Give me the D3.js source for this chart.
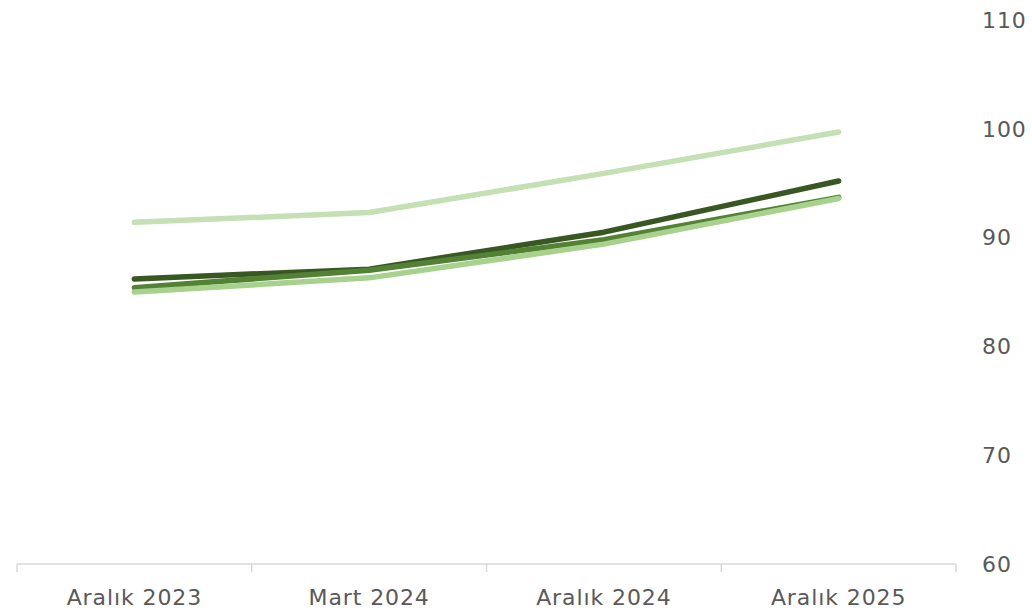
<!DOCTYPE html>
<html lang="tr">
<head>
    <meta charset="UTF-8">
    <title>Chart</title>
    <script src="https://d3js.org/d3.v7.min.js"></script>
    <style>
        body { margin: 0; background: #fff; }
        text { font-family: Verdana, "DejaVu Sans", sans-serif; fill: #595959; }
    </style>
</head>
<body>
    <div id="chart"></div>
    <script>
        const categories = ["Aralık 2023", "Mart 2024", "Aralık 2024", "Aralık 2025"];
        const yTicks = [60, 70, 80, 90, 100, 110];

        const seriesLight = [91.4, 92.3, 95.9, 99.7];
        const seriesDark = [86.2, 87.1, 90.5, 95.2];
        const seriesMedium = [85.4, 87.0, 89.8, 93.7];
        const seriesPale = [85.0, 86.3, 89.4, 93.6];

        const series = [
            { values: seriesLight, color: "#c5e0b4" },
            { values: seriesDark, color: "#385723" },
            { values: seriesMedium, color: "#548235" },
            { values: seriesPale, color: "#a9d18e" }
        ];

        const svg = d3.select("#chart")
            .append("svg")
            .attr("width", 1032)
            .attr("height", 613);

        const x = d3.scaleBand()
            .domain(categories)
            .range([17, 956]);

        const y = d3.scaleLinear()
            .domain([60, 110])
            .range([564, 20]);

        // category labels under the axis
        const xAxis = svg.append("g")
            .attr("transform", "translate(0, 564)")
            .call(d3.axisBottom(x).tickSize(0).tickPadding(25));
        xAxis.select(".domain").remove();
        xAxis.selectAll("text")
            .attr("font-size", "22px")
            .attr("letter-spacing", "0.9px")
            .style("font-family", "Verdana, 'DejaVu Sans', sans-serif")
            .attr("fill", "#595959");

        svg.append("line")
            .attr("x1", 17).attr("x2", 956)
            .attr("y1", 564).attr("y2", 564)
            .attr("stroke", "#d9d9d9")
            .attr("stroke-width", 1.5);

        const bounds = categories.map(c => x(c)).concat([x.range()[1]]);
        svg.selectAll(".xtick")
            .data(bounds)
            .enter()
            .append("line")
            .attr("x1", d => d).attr("x2", d => d)
            .attr("y1", 564).attr("y2", 572)
            .attr("stroke", "#d9d9d9")
            .attr("stroke-width", 1.5);

        // y labels on the right
        svg.selectAll(".ylabel")
            .data(yTicks)
            .enter()
            .append("text")
            .attr("x", 982)
            .attr("y", d => y(d))
            .attr("dy", "0.35em")
            .attr("font-size", "22px")
            .attr("letter-spacing", "0.9px")
            .text(d => d);

        const line = d3.line()
            .x((d, i) => x(categories[i]) + x.bandwidth() / 2)
            .y(d => y(d));

        series.forEach(s => {
            svg.append("path")
                .datum(s.values)
                .attr("d", line)
                .attr("fill", "none")
                .attr("stroke", s.color)
                .attr("stroke-width", 5.5)
                .attr("stroke-linecap", "round")
                .attr("stroke-linejoin", "round");
        });
    </script>
</body>
</html>
